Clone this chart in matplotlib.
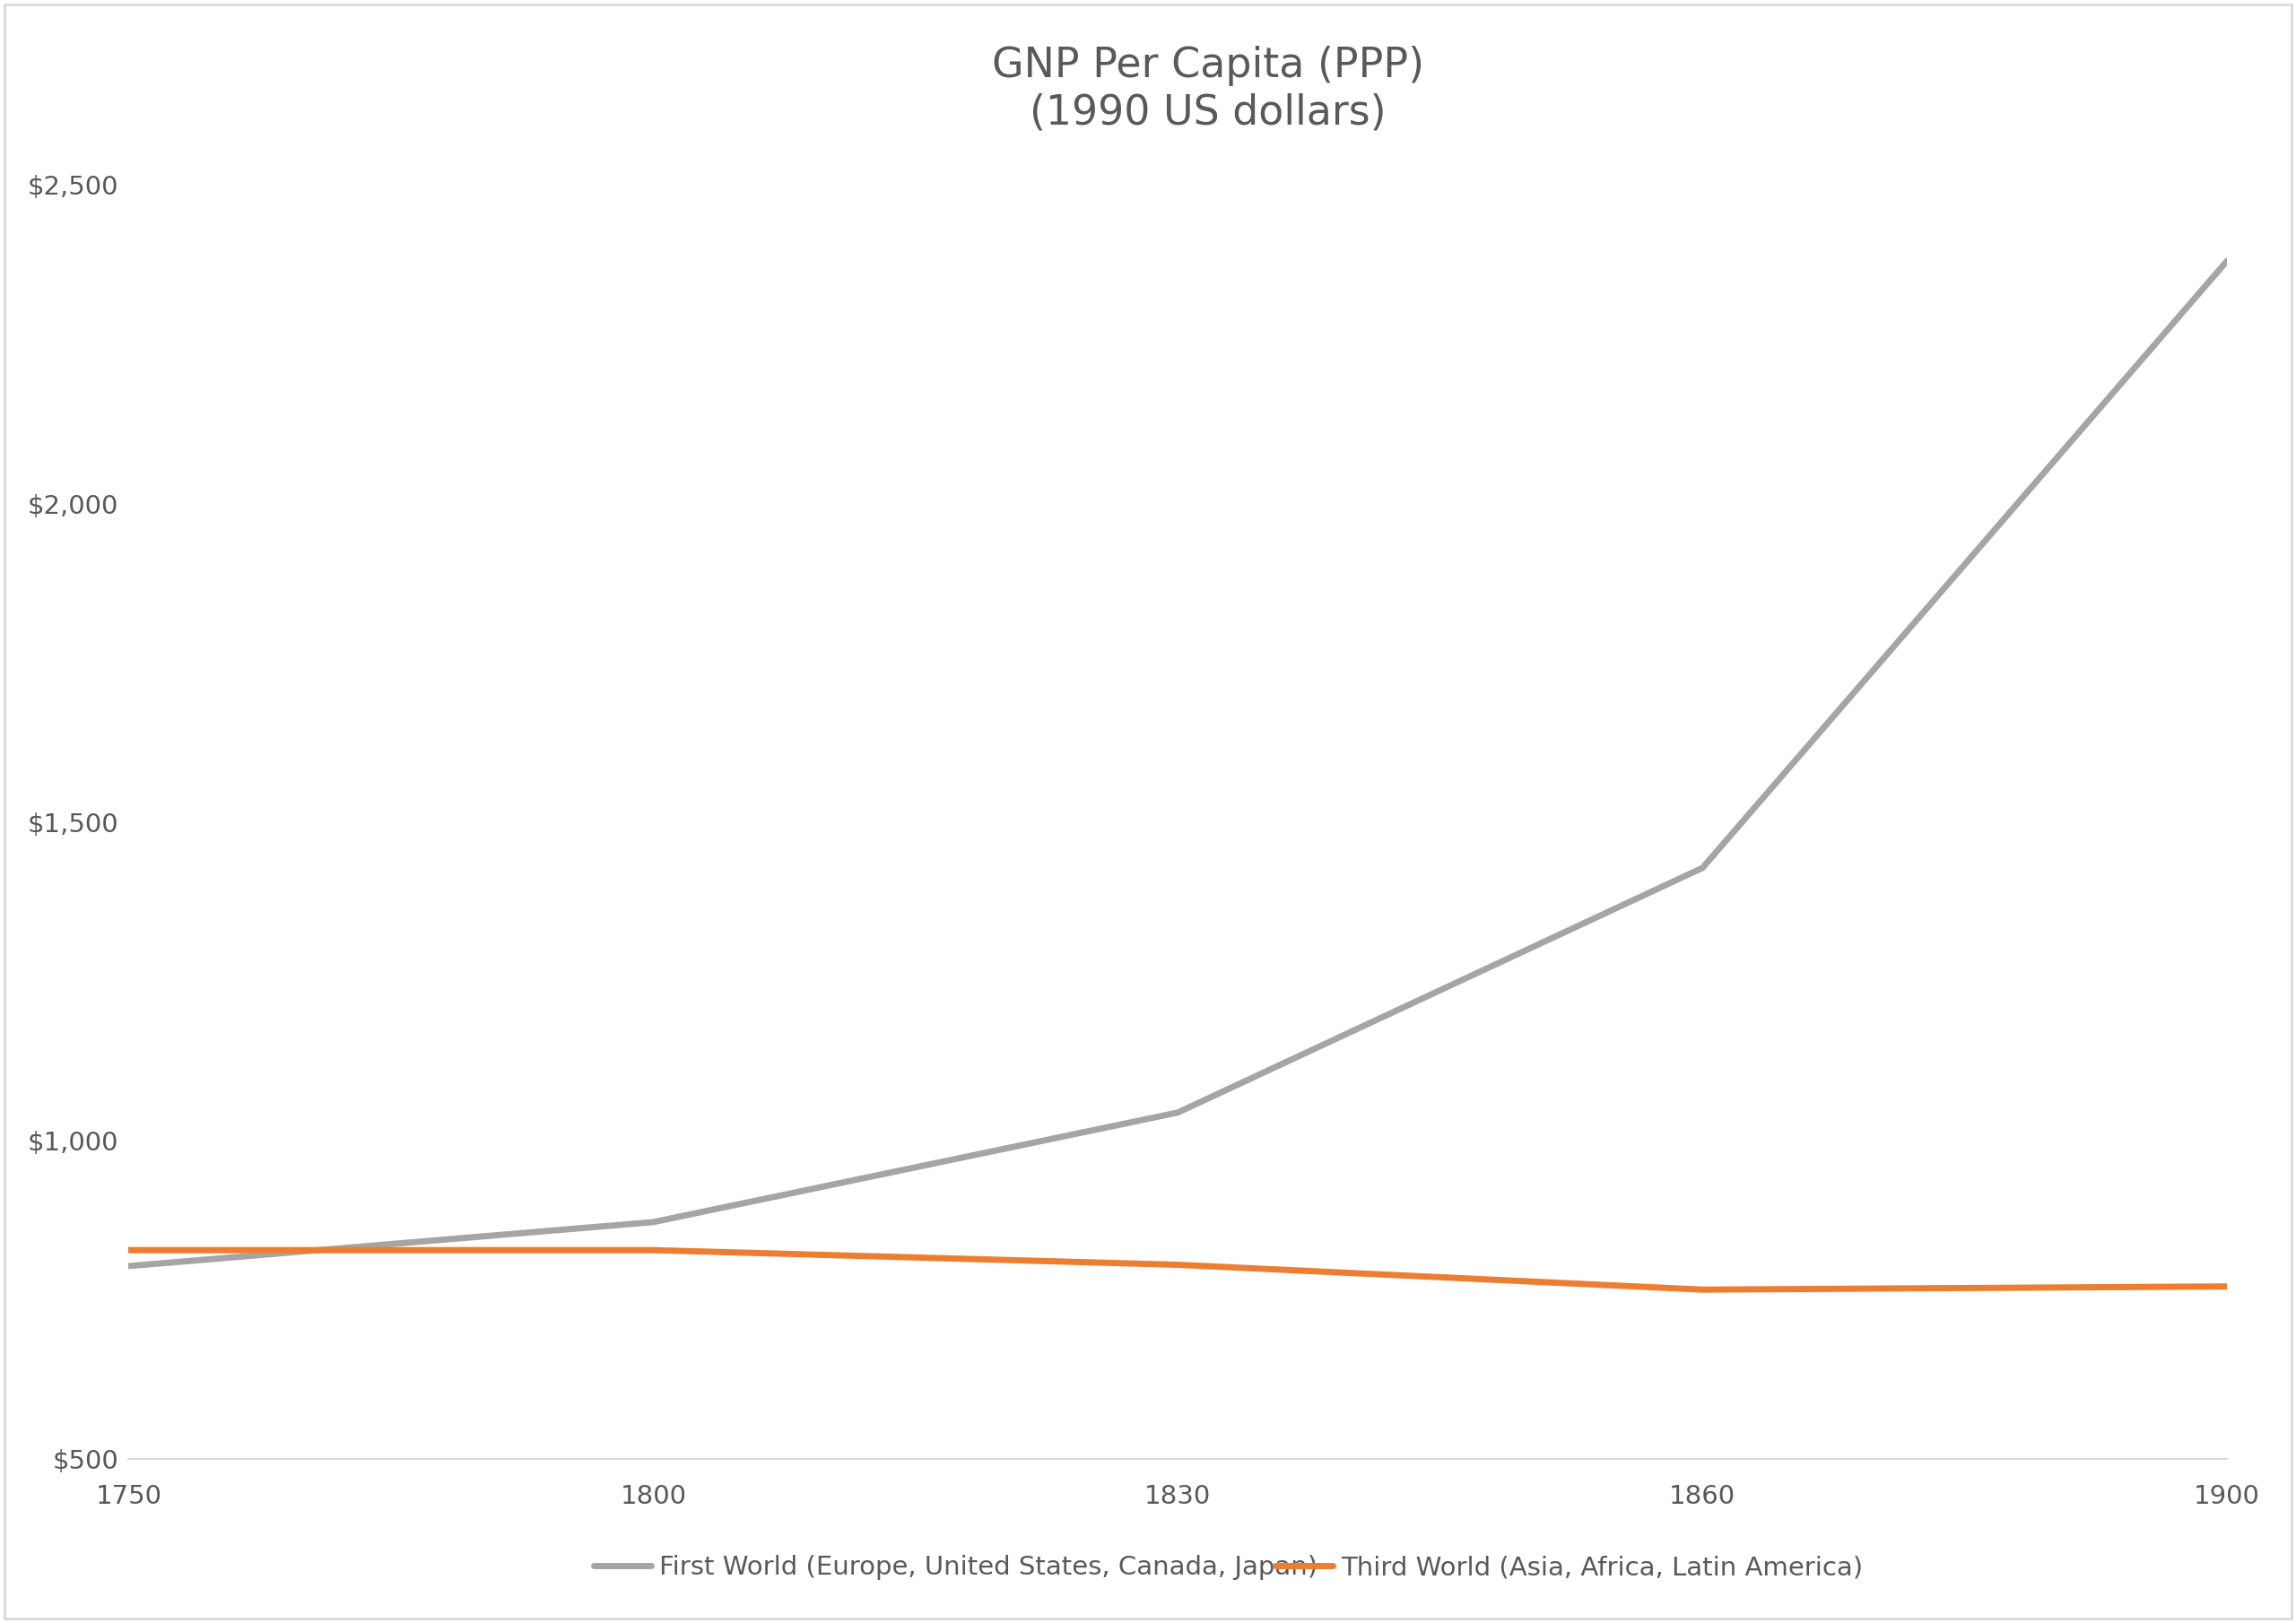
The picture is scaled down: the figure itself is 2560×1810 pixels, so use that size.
import matplotlib.pyplot as plt
from matplotlib.patches import Rectangle

years = ["1750", "1800", "1830", "1860", "1900"]
first_world = [803, 872, 1044, 1428, 2381]
third_world = [828, 828, 805, 766, 771]
first_label = "First World (Europe, United States, Canada, Japan)"
third_label = "Third World (Asia, Africa, Latin America)"

txt = "#595959"
fig = plt.figure(figsize=(25.6, 18.1), dpi=100)
ax = fig.add_axes([0.056, 0.101, 0.914, 0.785])
x = range(len(years))
ax.plot(x, first_world, color="#a5a5a5", lw=5, solid_capstyle="round", label=first_label)
ax.plot(x, third_world, color="#ed7d31", lw=5, solid_capstyle="round", label=third_label)

ax.set_xlim(0, len(years) - 1)
ax.set_ylim(500, 2500)
ax.set_xticks(list(x))
ax.set_xticklabels(years)
ax.set_yticks([500, 1000, 1500, 2000, 2500])
ax.set_yticklabels(["$500", "$1,000", "$1,500", "$2,000", "$2,500"])
ax.tick_params(axis="y", length=0, pad=8, labelsize=21, labelcolor=txt)
ax.tick_params(axis="x", length=0, pad=20, labelsize=21, labelcolor=txt)
for s in ["top", "right", "left"]:
    ax.spines[s].set_visible(False)
ax.spines["bottom"].set_color("#d9d9d9")
ax.spines["bottom"].set_linewidth(1.5)

fig.text(0.526, 0.945, "GNP Per Capita (PPP)\n(1990 US dollars)", ha="center", va="center",
         fontsize=33, color=txt, linespacing=1.2)
fig.legend(loc="center", bbox_to_anchor=(0.535, 0.034), ncol=2, frameon=False,
           fontsize=21, labelcolor=txt, columnspacing=-1.6, handlelength=2.2,
           handletextpad=0.3)
fig.patches.append(Rectangle((0.002, 0.003), 0.996, 0.994, transform=fig.transFigure,
                             fill=False, edgecolor="#d9d9d9", lw=2))
fig.savefig("out.png", dpi=100)
